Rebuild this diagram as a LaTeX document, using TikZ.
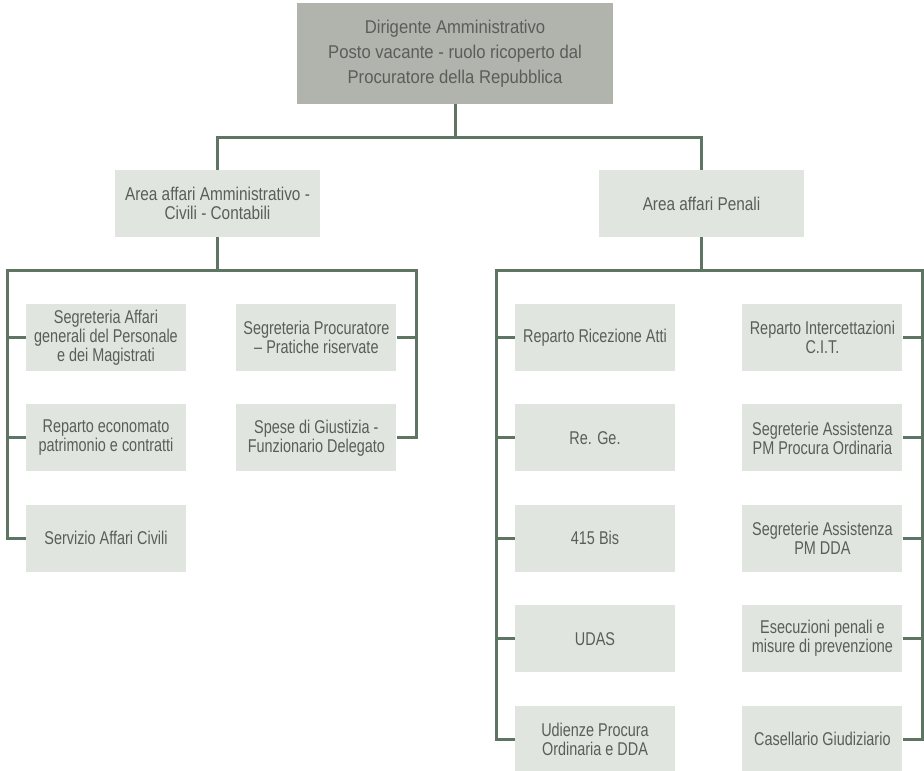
\documentclass[tikz,border=0pt]{standalone}
\usepackage{fontspec}
\setmainfont{Liberation Sans}[FakeStretch=0.85]
\newfontfamily\headfont{Liberation Sans}[FakeStretch=0.9]
\newfontfamily\areafont{Liberation Sans}[FakeStretch=0.83]
\newfontfamily\unitfont{Liberation Sans}[FakeStretch=0.78]
\usepackage{tikz}
\usetikzlibrary{positioning}

\definecolor{linkgreen}{RGB}{94,117,99}
\definecolor{headgray}{RGB}{176,180,172}
\definecolor{boxgray}{RGB}{225,229,224}
\definecolor{textgray}{RGB}{90,94,90}

\begin{document}
\begin{tikzpicture}[
  x=1pt,y=-1pt,
  node distance=33pt and 50pt,
  headnode/.style={fill=headgray,text=textgray,minimum width=316pt,minimum height=101pt,
    align=center,inner sep=0pt,font=\headfont\fontsize{18.5}{25}\selectfont},
  areanode/.style={fill=boxgray,text=textgray,minimum width=205pt,minimum height=67pt,
    align=center,inner sep=0pt,font=\areafont\fontsize{18.5}{18.5}\selectfont},
  unitnode/.style={fill=boxgray,text=textgray,minimum width=160pt,minimum height=67pt,
    align=center,inner sep=0pt,font=\unitfont\fontsize{18.5}{19}\selectfont},
  link/.style={draw=linkgreen,line width=3pt}
]
\useasboundingbox (0,0) rectangle (924,771);

\node[headnode] (top) at (455,53.5) {Dirigente Amministrativo\\Posto vacante - ruolo ricoperto dal\\Procuratore della Repubblica};

\node[areanode] (areaA) at (217.5,203.5) {Area affari Amministrativo -\\Civili - Contabili};
\node[areanode] (areaP) at (701.5,203.5) {Area affari Penali};

% area amministrativa
\node[unitnode] (a1) at (106,337.5) {Segreteria Affari\\generali del Personale\\e dei Magistrati};
\node[unitnode,below=of a1] (a2) {Reparto economato\\patrimonio e contratti};
\node[unitnode,below=of a2] (a3) {Servizio Affari Civili};
\node[unitnode,right=of a1] (b1) {Segreteria Procuratore\\– Pratiche riservate};
\node[unitnode,below=of b1] (b2) {Spese di Giustizia -\\Funzionario Delegato};

% area penale
\node[unitnode] (p1) at (595,337.5) {Reparto Ricezione Atti};
\node[unitnode,below=of p1] (p2) {Re. Ge.};
\node[unitnode,below=of p2] (p3) {415 Bis};
\node[unitnode,below=of p3] (p4) {UDAS};
\node[unitnode,below=of p4] (p5) {Udienze Procura\\Ordinaria e DDA};
\node[unitnode,right=67pt of p1] (q1) {Reparto Intercettazioni\\C.I.T.};
\node[unitnode,below=of q1] (q2) {Segreterie Assistenza\\PM Procura Ordinaria};
\node[unitnode,below=of q2] (q3) {Segreterie Assistenza\\PM DDA};
\node[unitnode,below=of q3] (q4) {Esecuzioni penali e\\misure di prevenzione};
\node[unitnode,below=of q4] (q5) {Casellario Giudiziario};

\coordinate (busA) at (7,270);
\coordinate (busB) at (416,270);
\coordinate (busP) at (496,270);
\coordinate (busQ) at (922.5,270);

\draw[link] (top.south) -- ++(0,33) -| (areaA.north);
\draw[link] (top.south) -- ++(0,33) -| (areaP.north);

\draw[link] (areaA.south) |- (busA) |- (a3.west);
\draw[link] (areaA.south) |- (busB) |- (b2.east);
\draw[link] (a1.west) -- (a1.west -| busA);
\draw[link] (a2.west) -- (a2.west -| busA);
\draw[link] (b1.east) -- (b1.east -| busB);

\draw[link] (areaP.south) |- (busP) |- (p5.west);
\draw[link] (areaP.south) |- (busQ) |- (q5.east);
\foreach \n in {1,2,3,4}{
  \draw[link] (p\n.west) -- (p\n.west -| busP);
  \draw[link] (q\n.east) -- (q\n.east -| busQ);
}
\end{tikzpicture}
\end{document}
